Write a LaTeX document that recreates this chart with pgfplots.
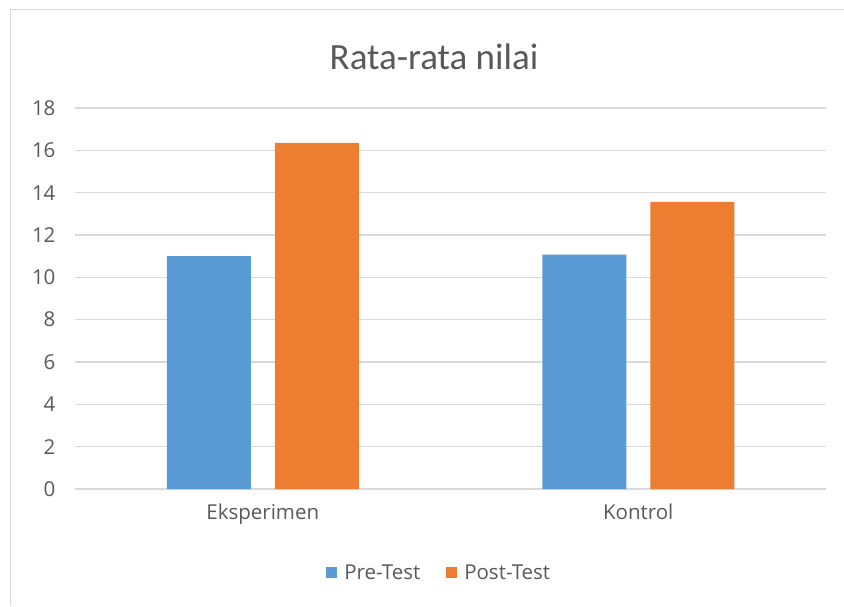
\documentclass[border=0pt]{standalone}
\usepackage{pgfplots}
\pgfplotsset{compat=1.18}
\usepackage{fontspec}
\setmainfont{Open Sans}
\newfontfamily\titlefont{Carlito}
\definecolor{blue1}{HTML}{5B9BD5}
\definecolor{orange1}{HTML}{ED7D31}
\definecolor{gridc}{HTML}{D9D9D9}
\definecolor{txt}{HTML}{595959}
\begin{document}
\begin{tikzpicture}[x=1pt,y=1pt]
\useasboundingbox (-75,-117) rectangle (769,489);
\draw[gridc, line width=1pt] (-64,-117) -- (-64,479) -- (769,479);
\node[font=\titlefont\fontsize{37}{44}\selectfont, text=txt] at (359,432) {Rata-rata nilai};
\begin{axis}[
  at={(0pt,0pt)}, anchor=south west,
  scale only axis, width=751pt, height=381pt,
  ybar=24pt, bar width=84pt,
  ymin=0, ymax=18, ytick={0,2,...,18},
  xmin=-0.5, xmax=1.5, xtick={0,1}, xticklabels={Eksperimen,Kontrol},
  axis line style={draw=none},
  major tick length=0pt,
  ymajorgrids, grid style={gridc, line width=1.3pt},
  /pgf/number format/assume math mode=true,
  tick label style={font=\fontsize{20.5}{24}\selectfont, text=txt},
  yticklabel style={xshift=-16pt},
  xticklabel style={yshift=-11pt},
  legend style={at={(0.485,-0.22)}, anchor=center, draw=none, fill=none,
    legend columns=2, font=\fontsize{20.5}{24}\selectfont, text=txt,
    /tikz/every even column/.append style={column sep=24pt}},
]
\addplot[fill=blue1, draw=none, legend image code/.code={\fill[blue1] (0pt,-5.5pt) rectangle (11pt,5.5pt); \path (0pt,0pt) (16pt,0pt);}] coordinates {(0,11.0) (1,11.07)};
\addplot[fill=orange1, draw=none, legend image code/.code={\fill[orange1] (0pt,-5.5pt) rectangle (11pt,5.5pt); \path (0pt,0pt) (16pt,0pt);}] coordinates {(0,16.35) (1,13.57)};
\legend{Pre-Test,Post-Test}
\end{axis}
\end{tikzpicture}
\end{document}
